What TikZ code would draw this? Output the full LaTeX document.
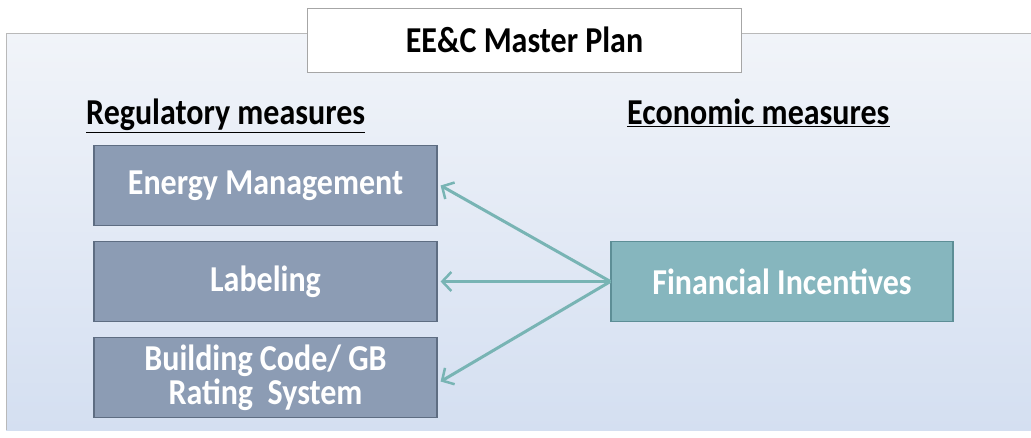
\documentclass[tikz,border=0pt]{standalone}
\usepackage{fontspec}
\setmainfont{Carlito}
\usetikzlibrary{arrows.meta}
\definecolor{panelTop}{HTML}{F1F4F9}
\definecolor{panelBot}{HTML}{D4DFF1}
\definecolor{regFill}{HTML}{8C9CB4}
\definecolor{regDraw}{HTML}{5E6D82}
\definecolor{finFill}{HTML}{86B6BE}
\definecolor{finDraw}{HTML}{5D8E96}
\definecolor{arrowCol}{HTML}{78B4B4}
\newcommand{\vstretch}[1]{\scalebox{1}[1.14]{#1}}
\tikzset{
  regbox/.style={draw=regDraw, line width=1.2pt, fill=regFill, text=white,
    minimum width=343pt, minimum height=80pt, inner sep=0pt, align=center,
    font=\fontsize{32}{34}\selectfont\bfseries},
  finbox/.style={regbox, draw=finDraw, fill=finFill, minimum width=342pt},
  headtxt/.style={font=\fontsize{32}{36}\selectfont\bfseries, text=black, inner sep=0pt},
  conn/.style={draw=arrowCol, line width=3pt,
    -{Straight Barb[length=9pt,width=19pt,line width=2.5pt]}}
}
\begin{document}
\begin{tikzpicture}[x=1pt,y=-1pt]
\useasboundingbox (0,0) rectangle (1031,437);
\fill[white] (0,0) rectangle (1031,437);
\shade[top color=panelTop, bottom color=panelBot] (6,33) rectangle (1031,430);
\draw[gray!55, line width=1pt] (1031,33) -- (6,33) -- (6,430);
\node[draw=gray!70, line width=1.2pt, fill=white, minimum width=434pt, minimum height=64pt,
  inner sep=0pt] (title) at (524.5,40.5) {};
\node[headtxt] (titletxt) at ([yshift=1pt]title.center) {\vstretch{EE\&C Master Plan}};
\node[headtxt, anchor=base west] (reg) at (86,124) {\vstretch{\underline{Regulatory measures}}};
\node[headtxt, anchor=base west] (eco) at (627,124) {\vstretch{\underline{Economic measures}}};
\node[regbox] (em) at (265.5,185.5) {\vstretch{Energy Management}};
\node[regbox] (lab) at (265.5,281.5) {\vstretch{Labeling}};
\node[regbox] (bc) at (265.5,377.5) {\vstretch{Building Code/ GB}\\\vstretch{Rating~~System}};
\node[finbox] (fin) at (782,281.5) {\vstretch{Financial Incentives}};
\draw[conn] (fin.west) -- ([xshift=3pt]em.east);
\draw[conn] (fin.west) -- ([xshift=3pt]lab.east);
\draw[conn] (fin.west) -- ([xshift=3pt,yshift=-4pt]bc.east);
\end{tikzpicture}
\end{document}
